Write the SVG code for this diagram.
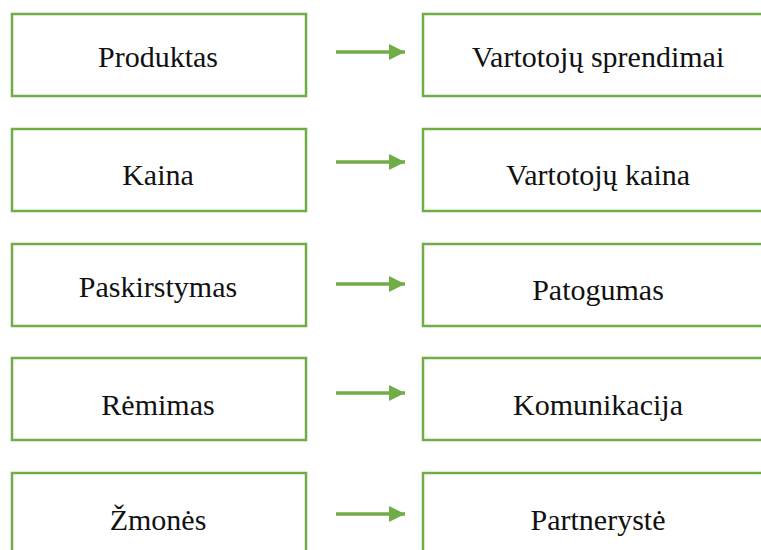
<svg xmlns="http://www.w3.org/2000/svg" width="761" height="550" viewBox="0 0 761 550">
  <style>
    .box { fill: #ffffff; stroke: #70AD47; stroke-width: 2.5; }
    .label { font-family: "Liberation Serif", "Times New Roman", Times, Tinos, "Noto Serif", "DejaVu Serif", FreeSerif, serif; font-size: 30px; fill: #111111; text-anchor: middle; }
    .link { stroke: #70AD47; stroke-width: 3.5; fill: none; }
  </style>
  <defs>
    <marker id="head" viewBox="0 0 10 10" refX="10" refY="5" markerWidth="17" markerHeight="16" markerUnits="userSpaceOnUse" orient="auto">
      <path d="M0,0 L10,5 L0,10 Z" fill="#70AD47"/>
    </marker>
  </defs>
  <rect width="761" height="550" fill="#ffffff"/>

  <!-- left column: marketing mix elements -->
  <g id="produktas"><rect class="box" x="12" y="14" width="294" height="82"/><text class="label" x="158" y="67">Produktas</text></g>
  <g id="kaina"><rect class="box" x="12" y="129" width="294" height="82"/><text class="label" x="158" y="185">Kaina</text></g>
  <g id="paskirstymas"><rect class="box" x="12" y="244" width="294" height="82"/><text class="label" x="158" y="297">Paskirstymas</text></g>
  <g id="remimas"><rect class="box" x="12" y="358" width="294" height="82"/><text class="label" x="158" y="415">Rėmimas</text></g>
  <g id="zmones"><rect class="box" x="12" y="473" width="294" height="82"/><text class="label" x="158" y="530">Žmonės</text></g>

  <!-- right column: consumer-oriented counterparts -->
  <g id="vartotoju-sprendimai"><rect class="box" x="423" y="14" width="350" height="82"/><text class="label" x="598" y="67">Vartotojų sprendimai</text></g>
  <g id="vartotoju-kaina"><rect class="box" x="423" y="129" width="350" height="82"/><text class="label" x="598" y="185">Vartotojų kaina</text></g>
  <g id="patogumas"><rect class="box" x="423" y="244" width="350" height="82"/><text class="label" x="598" y="300">Patogumas</text></g>
  <g id="komunikacija"><rect class="box" x="423" y="358" width="350" height="82"/><text class="label" x="598" y="415">Komunikacija</text></g>
  <g id="partneryste"><rect class="box" x="423" y="473" width="350" height="82"/><text class="label" x="598" y="530">Partnerystė</text></g>

  <!-- connectors -->
  <g id="connectors">
    <line class="link" x1="336" y1="52" x2="405" y2="52" marker-end="url(#head)"/>
    <line class="link" x1="336" y1="162" x2="405" y2="162" marker-end="url(#head)"/>
    <line class="link" x1="336" y1="284" x2="405" y2="284" marker-end="url(#head)"/>
    <line class="link" x1="336" y1="393" x2="405" y2="393" marker-end="url(#head)"/>
    <line class="link" x1="336" y1="514" x2="405" y2="514" marker-end="url(#head)"/>
  </g>
</svg>
